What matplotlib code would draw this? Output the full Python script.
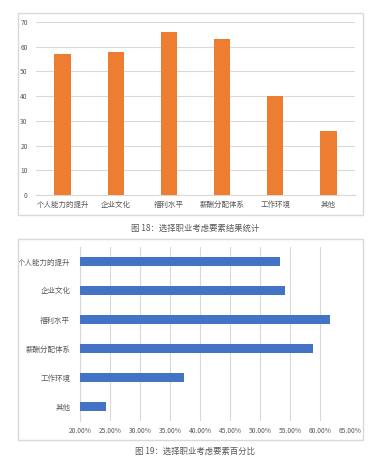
import matplotlib
matplotlib.use('Agg')
import matplotlib.pyplot as plt
from matplotlib.patches import Rectangle

plt.rcParams['font.family'] = ['Noto Sans CJK SC', 'DejaVu Sans']

# --- data ---
categories = ['个人能力的提升', '企业文化', '福利水平', '薪酬分配体系', '工作环境', '其他']
counts = [57, 58, 66, 63, 40, 26]
percents = [53.27, 54.21, 61.68, 58.88, 37.38, 24.30]
y_ticks = [0, 10, 20, 30, 40, 50, 60, 70]
x_ticks = [20, 25, 30, 35, 40, 45, 50, 55, 60, 65]
caption1 = '图 18：选择职业考虑要素结果统计'
caption2 = '图 19：选择职业考虑要素百分比'

W, H = 370, 469
fig = plt.figure(figsize=(W / 100, H / 100), dpi=100)
fig.patch.set_facecolor('white')

def px_axes(l, t, r, b):
    return fig.add_axes([l / W, 1 - b / H, (r - l) / W, (b - t) / H])

def px_box(l, t, r, b):
    fig.patches.append(Rectangle((l / W, 1 - b / H), (r - l) / W, (b - t) / H,
                                 transform=fig.transFigure, fill=False,
                                 edgecolor='#d9d9d9', linewidth=1.0))

txt = '#595959'
grid = '#d9d9d9'

# ============ chart 1: counts ============
px_box(18, 13, 363, 215)
ax1 = px_axes(36, 22, 355, 195)
xs = range(len(categories))
ax1.bar(xs, counts, width=0.31, color='#ED7D31', zorder=3)
ax1.set_xlim(-0.5, len(categories) - 0.5)
ax1.set_ylim(0, 70)
ax1.set_yticks(y_ticks)
ax1.set_xticks(list(xs))
ax1.set_xticklabels(categories, fontsize=5.4, color=txt)
ax1.tick_params(axis='y', labelsize=4.8, labelcolor=txt, length=0, pad=6)
ax1.tick_params(axis='x', length=0, pad=4)
ax1.grid(axis='y', color=grid, linewidth=0.8, zorder=0)
for s in ['top', 'right', 'left']:
    ax1.spines[s].set_visible(False)
ax1.spines['bottom'].set_color(grid)
ax1.spines['bottom'].set_linewidth(0.8)
fig.text(195 / W, 1 - 228 / H, caption1, fontsize=6, color=txt,
         ha='center', va='center')

# ============ chart 2: percents ============
px_box(18, 239, 363, 440)
ax2 = px_axes(80, 247, 350, 421)
ax2.barh(list(xs), percents, height=0.34, color='#4472C4', zorder=3)
ax2.set_xlim(20, 65)
ax2.set_ylim(len(categories) - 0.5, -0.5)
ax2.set_yticks(list(xs))
ax2.set_yticklabels(categories, fontsize=5.4, color=txt)
ax2.set_xticks(x_ticks)
ax2.set_xticklabels([f'{v:.2f}%' for v in x_ticks], fontsize=4.8, color=txt)
ax2.tick_params(axis='both', length=0)
ax2.tick_params(axis='y', pad=7)
ax2.tick_params(axis='x', pad=4)
ax2.grid(axis='x', color=grid, linewidth=0.8, zorder=0)
for s in ['top', 'right', 'bottom']:
    ax2.spines[s].set_visible(False)
ax2.spines['left'].set_color(grid)
ax2.spines['left'].set_linewidth(0.8)
fig.text(195 / W, 1 - 451 / H, caption2, fontsize=6, color=txt,
         ha='center', va='center')

plt.savefig('out.png', dpi=100)
